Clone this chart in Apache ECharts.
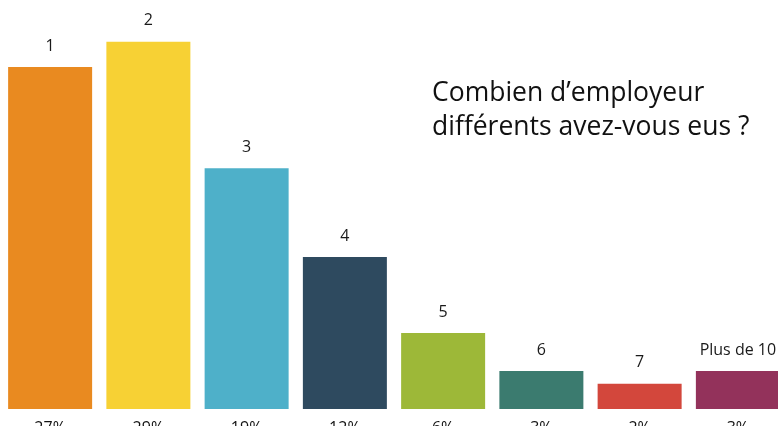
<!DOCTYPE html>
<html><head><meta charset="utf-8">
<script src="https://cdn.jsdelivr.net/npm/echarts@6/dist/echarts.min.js"></script>
<style>html,body{margin:0;padding:0;background:#fff}#c{width:778px;height:426px}</style>
</head><body><div id="c"></div>
<script>
const categories = ['1', '2', '3', '4', '5', '6', '7', 'Plus de 10'];
const values = [27, 29, 19, 12, 6, 3, 2, 3];
const colors = ['#E98A20', '#F7D134', '#4EB0C9', '#2E4A5F', '#9DB838', '#3B7B6F', '#D3473C', '#93325B'];
const titleText = 'Combien d\u2019employeur\ndiff\u00e9rents avez-vous eus ?';

const chart = echarts.init(document.getElementById('c'), null, {renderer: 'canvas'});
chart.setOption({
  animation: false,
  backgroundColor: '#fff',
  title: {
    text: titleText, left: 432, top: 76, padding: 0,
    textStyle: {fontFamily: 'Open Sans', fontWeight: 'normal', fontSize: 26.5, lineHeight: 34, color: '#111'}
  },
  grid: {left: 1, right: -9, top: 29, bottom: 17, containLabel: false, outerBoundsMode: 'none'},
  xAxis: {
    type: 'category', data: categories,
    axisLine: {show: false}, axisTick: {show: false},
    axisLabel: {
      margin: 11, fontFamily: 'Open Sans', fontSize: 16, color: '#111',
      formatter: (v, i) => values[i] + '%'
    }
  },
  yAxis: {type: 'value', min: 0, max: 30, show: false, splitLine: {show: false}},
  series: [{
    type: 'bar', barWidth: 84,
    data: values.map((v, i) => ({value: v, itemStyle: {color: colors[i]}})),
    label: {
      show: true, position: 'top', distance: 13,
      fontFamily: 'Open Sans', fontSize: 16, color: '#1a1a1a',
      formatter: p => categories[p.dataIndex]
    }
  }]
});
</script></body></html>
